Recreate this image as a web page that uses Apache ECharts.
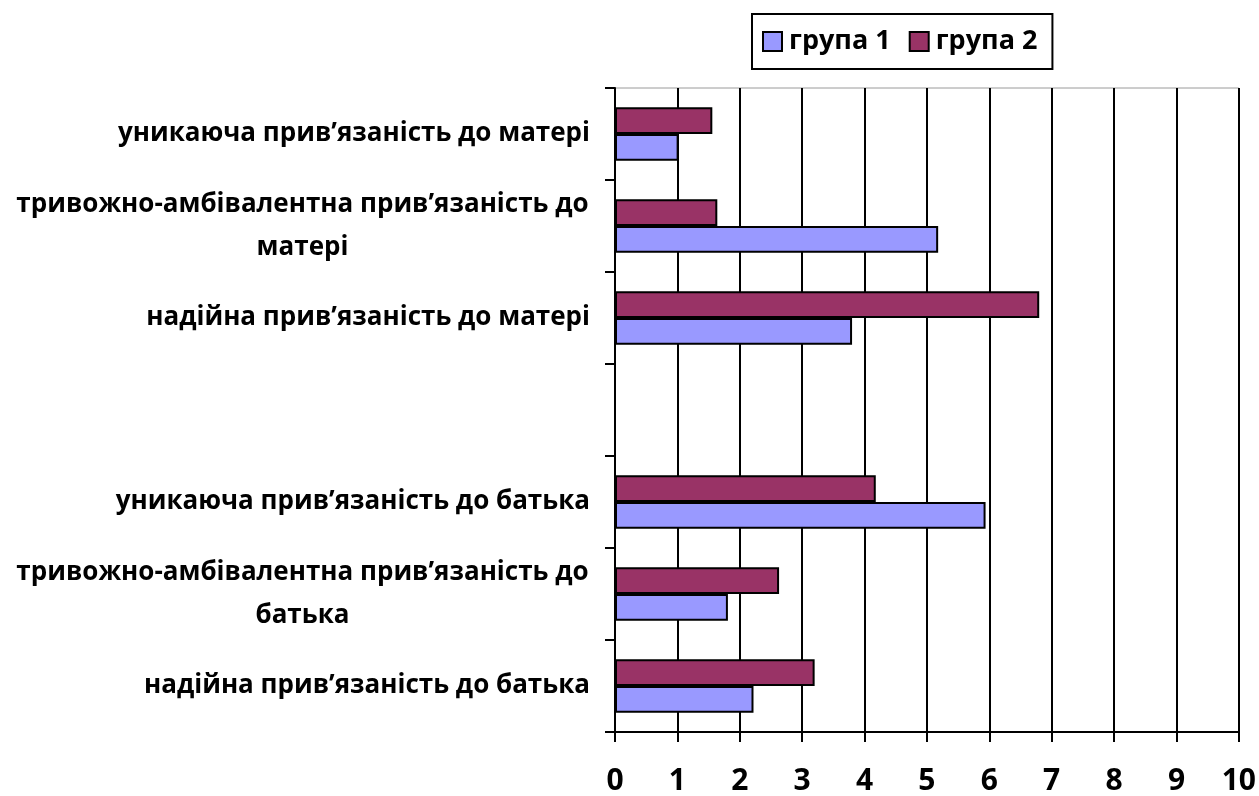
<!DOCTYPE html>
<html>
<head>
<meta charset="utf-8">
<script src="https://cdn.jsdelivr.net/npm/echarts@6/dist/echarts.min.js"></script>
<style>
html,body{margin:0;padding:0;background:#fff;}
#chart{width:1259px;height:796px;}
</style>
</head>
<body>
<div id="chart"></div>
<script>
// categories listed bottom-to-top (category axis order)
const categories = [
  'надійна прив’язаність до батька',
  'тривожно-амбівалентна прив’язаність до\nбатька',
  'уникаюча прив’язаність до батька',
  '',
  'надійна прив’язаність до матері',
  'тривожно-амбівалентна прив’язаність до\nматері',
  'уникаюча прив’язаність до матері'
];
const group1 = [2.22, 1.81, 5.94, null, 3.80, 5.18, 1.02];
const group2 = [3.20, 2.63, 4.18, null, 6.80, 1.64, 1.56];
const seriesNames = ['група 1', 'група 2'];
const xTicks = ['0','1','2','3','4','5','6','7','8','9','10'];

const FONT = 'Open Sans';
const LABEL_SIZE = 26;

// measure widest line so multi-line labels can be centred line by line
const cv = document.createElement('canvas').getContext('2d');
cv.font = 'bold ' + LABEL_SIZE + 'px "' + FONT + '"';
let maxW = 0;
categories.forEach(function (c) {
  const lines = c.split('\n');
  if (lines.length > 1) lines.forEach(function (l) { maxW = Math.max(maxW, cv.measureText(l).width); });
});
maxW = Math.ceil(maxW) + 2;

const chart = echarts.init(document.getElementById('chart'));
chart.setOption({
  animation: false,
  backgroundColor: '#fff',
  textStyle: {fontFamily: FONT},
  legend: {
    left: 752, top: 14,
    padding: [14, 15, 14, 10],
    borderColor: '#000', borderWidth: 2,
    itemWidth: 19, itemHeight: 19, itemGap: 18,
    icon: 'rect',
    textStyle: {fontFamily: FONT, fontWeight: 'bold', fontSize: 27, color: '#000', padding: [0,0,0,2]},
    data: seriesNames
  },
  grid: {
    left: 615, right: 18, top: 88, bottom: 61,
    show: true, borderColor: '#9a9a9a', borderWidth: 1
  },
  xAxis: {
    type: 'value', min: 0, max: 10, interval: 1,
    axisLine: {show: true, lineStyle: {color: '#000', width: 2}},
    axisTick: {show: true, length: 10, lineStyle: {color: '#000', width: 2}},
    splitLine: {show: true, lineStyle: {color: '#000', width: 2}},
    axisLabel: {
      margin: 34, fontFamily: FONT, fontWeight: 'bold', fontSize: 30, color: '#000',
      formatter: function (v) { return xTicks[Math.round(v)]; }
    }
  },
  yAxis: {
    type: 'category', data: categories,
    axisLine: {show: true, lineStyle: {color: '#000', width: 2}},
    axisTick: {show: true, length: 10, lineStyle: {color: '#000', width: 2}},
    splitLine: {show: false},
    axisLabel: {
      margin: 25, color: '#000',
      formatter: function (v) {
        if (!v) return '';
        const lines = v.split('\n');
        if (lines.length === 1) return '{s|' + v + '}';
        return lines.map(function (s) { return '{c|' + s + '}'; }).join('\n');
      },
      rich: {
        s: {fontFamily: FONT, fontWeight: 'bold', fontSize: LABEL_SIZE, color: '#000', lineHeight: 42},
        c: {fontFamily: FONT, fontWeight: 'bold', fontSize: LABEL_SIZE, color: '#000', align: 'center', width: maxW, lineHeight: 43}
      }
    }
  },
  series: [
    {
      name: seriesNames[1], type: 'bar', data: group2,
      barGap: '0%', barCategoryGap: '42%',
      itemStyle: {color: '#993366', borderColor: '#000', borderWidth: 2}
    },
    {
      name: seriesNames[0], type: 'bar', data: group1,
      barGap: '0%', barCategoryGap: '42%',
      itemStyle: {color: '#9999FF', borderColor: '#000', borderWidth: 2}
    }
  ]
});
</script>
</body>
</html>
